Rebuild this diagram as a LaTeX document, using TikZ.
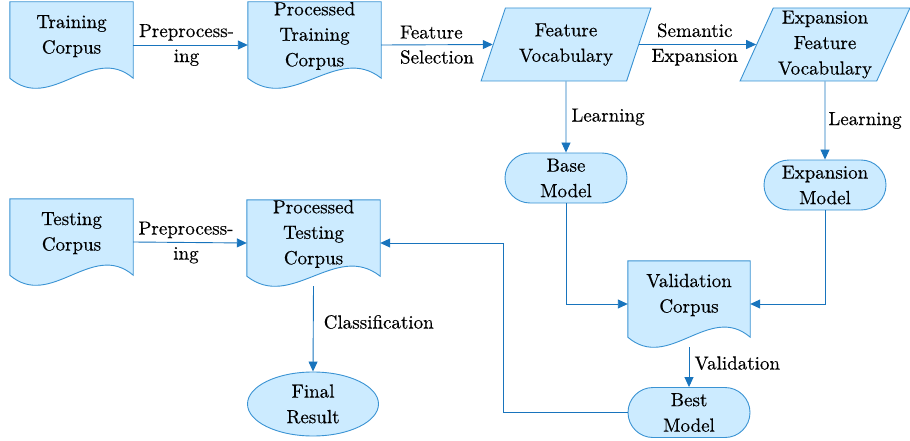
\documentclass[tikz,border=0pt]{standalone}
\usepackage{fontspec}
\IfFontExistsTF{lmroman10-regular.otf}
  {\setmainfont{lmroman10-regular.otf}[FakeBold=0.4]}
  {\setmainfont{Latin Modern Roman}}
\usetikzlibrary{shapes.geometric,arrows.meta,calc,backgrounds}

\definecolor{shapefill}{HTML}{CCEBFF}
\definecolor{shapeline}{HTML}{3A93D3}
\definecolor{arrowblue}{HTML}{1874BD}

% text of a document box, lifted above the wavy bottom edge
\newcommand\doctext[1]{\raisebox{5pt}[0pt][0pt]{\begin{tabular}{@{}c@{}}#1\end{tabular}}}

% document outline with a wavy bottom, drawn behind the named node
\newcommand\docoutline[1]{%
  \begin{scope}[on background layer]
    \path[docline] (#1.north west) -- (#1.north east)
      -- ($(#1.south east)+(0,-10)$)
      .. controls ($(#1.south east)!0.333!(#1.south west)+(0,-45)$)
      and ($(#1.south west)!0.333!(#1.south east)+(0,25)$)
      .. ($(#1.south west)+(0,-10)$) -- cycle;
  \end{scope}}

\tikzset{
  base/.style={font=\fontsize{19}{25.5}\selectfont\bfseries, inner sep=0pt, align=center},
  docbox/.style={base, rectangle, minimum width=#1, minimum height=86pt},
  docline/.style={draw=shapeline, fill=shapefill, line width=0.9pt},
  datbox/.style={base, trapezium, trapezium left angle=66, trapezium right angle=114,
    trapezium stretches=true, minimum width=170pt, minimum height=73pt,
    draw=shapeline, fill=shapefill, line width=0.9pt},
  term/.style={base, rectangle, rounded corners=25pt, minimum width=122pt, minimum height=50pt,
    draw=shapeline, fill=shapefill, line width=0.9pt},
  endbox/.style={base, ellipse, minimum width=131pt, minimum height=64pt,
    draw=shapeline, fill=shapefill, line width=0.9pt},
  flow/.style={draw=arrowblue, line width=0.9pt, -{Triangle[length=10pt,width=9pt]}},
  lbl/.style={font=\fontsize{19}{25}\selectfont\bfseries, inner sep=0pt, align=center}
}

\begin{document}
\begin{tikzpicture}[x=1pt, y=-1pt]
  \path[use as bounding box] (0,0) rectangle (910,441);

  % training branch
  \node[docbox=123pt] (tc)   at (71.5,45)  {\doctext{Training\\Corpus}};
  \node[docbox=133pt] (ptc)  at (314.5,45) {\doctext{Processed\\Training\\Corpus}};
  \node[datbox]       (fv)   at (566,44.5) {Feature\\Vocabulary};
  \node[datbox]       (efv)  at (825,44.5) {Expansion\\Feature\\Vocabulary};
  \node[term]         (bm)   at (566,178)  {Base\\Model};
  \node[term]         (em)   at (825,185)  {Expansion\\Model};

  % testing branch
  \node[docbox=123pt] (tsc)  at (71.5,242) {\doctext{Testing\\Corpus}};
  \node[docbox=133pt] (ptsc) at (313.5,243) {\doctext{Processed\\Testing\\Corpus}};
  \node[endbox]       (fr)   at (313,404)  {Final\\Result};

  % model selection
  \node[docbox=122pt] (vc)   at (689,304)  {\doctext{Validation\\Corpus}};
  \node[term]         (best) at (689,412.5) {Best\\Model};
  \coordinate (turn) at (503,243);

  \docoutline{tc}
  \docoutline{ptc}
  \docoutline{tsc}
  \docoutline{ptsc}
  \docoutline{vc}

  % connectors
  \draw[flow] (tc.east) -- node[lbl, xshift=-4pt]{Preprocess-\\ing} (ptc.west);
  \draw[flow] (ptc.east) -- node[lbl, align=left]{Feature\\Selection} (fv.west);
  \draw[flow] (fv.east) -- node[lbl, xshift=-3pt]{Semantic\\Expansion} (efv.west);
  \draw[flow] (fv.south) -- node[lbl, right, xshift=5pt]{Learning} (bm.north);
  \draw[flow] (efv.south) -- node[lbl, right, xshift=3pt]{Learning} (em.north);
  \draw[flow] (bm.south) |- (vc.west);
  \draw[flow] (em.south) |- (vc.east);
  \draw[flow] (vc.south) -- node[lbl, right, pos=0.4, xshift=5pt]{Validation} (best.north);
  \draw[flow] (best.west) -| (turn) -- (ptsc.east);
  \draw[flow] (tsc.east) -- node[lbl, xshift=-4pt]{Preprocess-\\ing} (ptsc.west);
  \draw[flow] (ptsc.south) -- node[lbl, right, pos=0.42, xshift=10pt]{Classification} (fr.north);
\end{tikzpicture}
\end{document}
